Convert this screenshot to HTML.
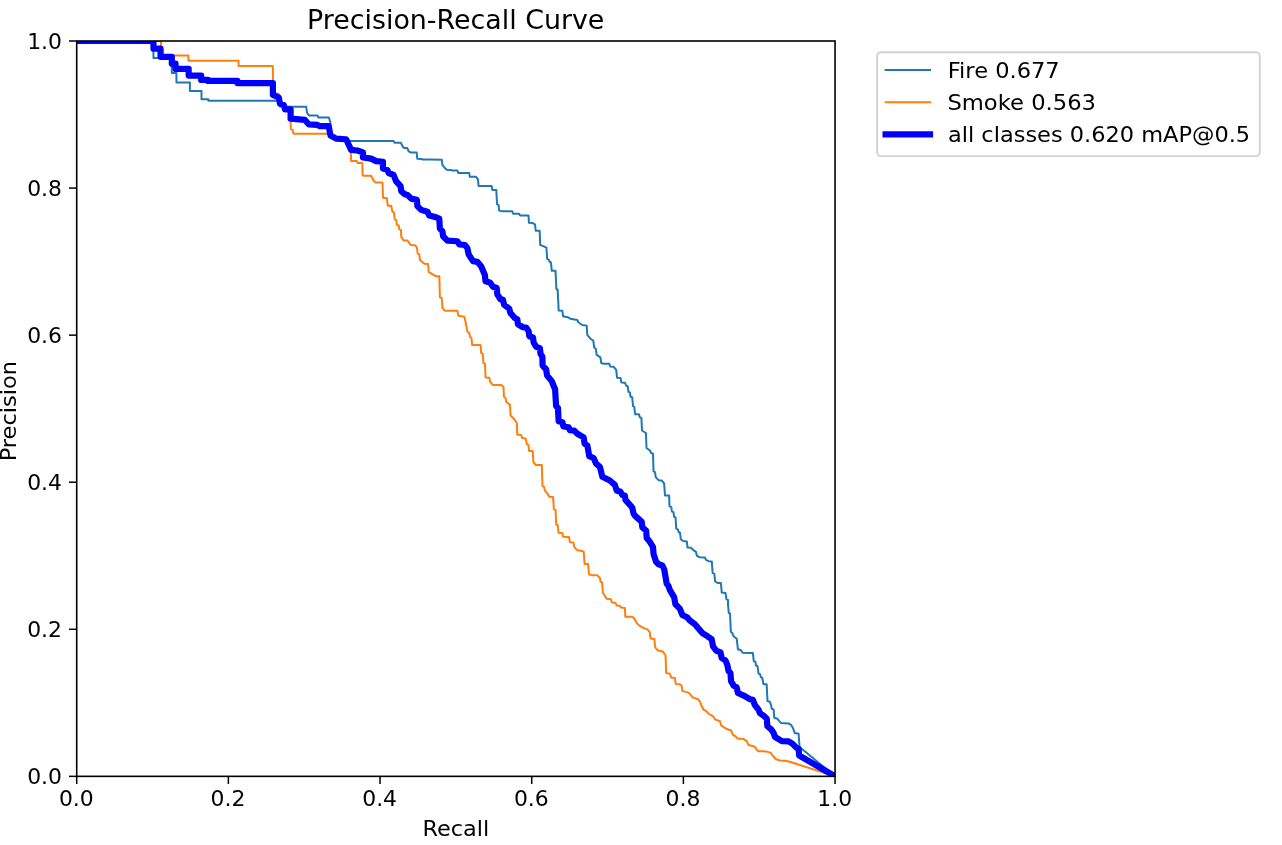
<!DOCTYPE html>
<html lang="en"><head><meta charset="utf-8"><title>Precision-Recall Curve</title>
<style>html,body{margin:0;padding:0;background:#fff;overflow:hidden}svg{display:block}text{font-family:"DejaVu Sans","Liberation Sans",sans-serif;fill:#000000}.t{font-size:26.80px}.b{font-size:21.90px}</style></head><body>
<svg width="1282" height="845" viewBox="0 0 1282 845">
<rect x="0" y="0" width="1282" height="845" fill="#ffffff"/>
<defs><clipPath id="ax"><rect x="76.7" y="41.0" width="758.35" height="735.35"/></clipPath></defs>
<g clip-path="url(#ax)" fill="none" stroke-linejoin="round" stroke-linecap="square">
<path d="M76.70,41.00 L153.46,41.00 L153.46,58.08 L171.81,58.08 L171.81,73.06 L176.43,73.06 L176.43,82.42 L189.91,82.42 L189.91,90.90 L201.51,90.90 L201.51,99.27 L208.38,99.27 L208.38,100.76 L275.40,100.76 L276.24,100.76 L279.73,100.97 L279.98,104.34 L283.98,104.96 L284.73,106.83 L292.46,106.83 L306.19,106.83 L307.07,112.70 L308.94,115.57 L317.43,115.57 L318.42,117.44 L328.91,117.44 L330.53,123.06 L330.78,134.91 L336.15,138.03 L346.13,138.66 L349.25,140.90 L351.12,140.90 L393.56,140.90 L394.56,142.78 L400.80,142.78 L402.92,146.77 L404.17,148.02 L407.29,148.02 L408.53,151.14 L410.41,152.39 L416.65,152.39 L417.27,158.63 L421.64,158.88 L422.26,159.50 L430.00,159.50 L441.76,159.70 L442.39,164.95 L444.88,168.07 L446.76,169.69 L451.12,169.94 L451.75,170.56 L457.36,170.56 L458.36,173.06 L469.22,173.06 L469.84,176.80 L476.08,176.80 L477.96,179.30 L478.58,185.91 L491.68,185.91 L492.31,189.91 L496.30,189.91 L497.05,204.26 L498.55,204.88 L499.17,210.50 L502.29,211.37 L512.28,211.37 L513.28,213.87 L519.14,213.87 L520.14,215.49 L528.50,215.49 L528.95,222.74 L532.70,223.11 L534.95,224.36 L535.82,230.85 L539.69,230.85 L540.19,244.95 L543.68,246.45 L546.43,247.70 L547.18,258.93 L548.92,259.93 L549.67,261.80 L550.92,262.43 L551.79,270.79 L555.54,270.79 L556.41,289.26 L557.66,289.51 L558.66,310.48 L562.40,310.85 L563.03,316.34 L568.64,317.59 L570.51,318.84 L577.32,320.00 L578.56,322.50 L582.31,324.99 L586.68,325.62 L587.30,334.98 L590.42,338.72 L593.29,340.59 L594.17,347.46 L595.79,348.71 L596.66,354.95 L600.41,357.44 L601.28,363.06 L603.71,363.74 L609.33,363.74 L610.20,366.49 L613.70,366.86 L616.19,369.98 L617.07,377.72 L620.56,378.10 L621.44,382.46 L624.93,382.71 L626.18,385.59 L627.68,386.21 L628.42,391.83 L629.92,392.45 L630.55,396.82 L632.17,397.19 L633.04,406.18 L634.29,406.80 L635.16,414.29 L638.91,414.29 L639.91,417.41 L641.40,418.03 L642.03,430.51 L645.90,433.01 L646.52,447.99 L649.89,450.48 L651.14,452.98 L653.01,453.60 L653.53,471.41 L655.02,472.16 L655.77,477.40 L658.52,480.15 L661.64,480.52 L664.13,483.39 L665.01,495.50 L669.13,495.50 L669.49,506.24 L671.23,506.86 L671.86,511.48 L673.48,512.11 L674.10,516.85 L675.60,517.47 L676.22,528.71 L678.10,529.70 L678.72,532.20 L679.97,532.70 L680.84,539.31 L683.09,540.94 L686.83,541.44 L687.46,547.43 L691.20,547.80 L693.07,549.92 L695.94,551.79 L696.82,555.54 L699.31,557.16 L704.93,557.41 L705.93,559.91 L708.67,561.15 L711.79,561.40 L712.67,573.01 L714.29,573.63 L715.16,581.37 L717.66,583.00 L720.90,583.00 L721.78,592.61 L725.52,592.98 L726.40,599.22 L728.02,599.84 L728.02,605.00 L728.82,613.11 L730.07,613.74 L730.82,631.83 L732.32,633.08 L733.56,636.20 L736.68,638.70 L737.93,649.31 L741.05,650.18 L742.55,652.68 L752.91,653.05 L753.78,661.16 L755.41,661.79 L756.03,665.53 L757.53,666.15 L758.53,673.64 L760.02,674.27 L761.02,677.39 L762.27,678.01 L763.52,684.25 L766.64,684.25 L767.51,701.10 L769.76,701.72 L771.01,704.84 L771.75,708.72 L773.62,709.34 L774.24,717.71 L777.36,718.71 L778.86,720.58 L781.11,723.07 L788.60,723.45 L791.09,724.95 L792.96,728.07 L794.84,733.06 L798.58,733.68 L799.58,747.41 L801.70,748.66 L835.05,776.35" stroke="#1f77b4" stroke-width="2.0"/>
<path d="M76.70,41.00 L160.95,41.00 L160.95,55.59 L188.41,55.59 L188.41,60.83 L238.58,60.83 L238.58,65.94 L272.90,65.94 L272.90,92.40 L278.49,93.98 L279.73,95.60 L279.98,106.46 L284.35,106.83 L284.98,109.95 L290.34,110.20 L290.59,122.43 L290.97,129.30 L292.71,129.92 L293.34,133.67 L327.41,133.67 L330.78,133.92 L331.15,136.16 L336.15,139.28 L346.13,139.91 L350.50,149.89 L350.87,153.63 L351.12,161.12 L356.74,161.12 L357.74,163.00 L362.36,163.00 L362.61,175.48 L364.85,175.85 L371.09,175.85 L373.59,180.47 L375.62,182.42 L382.48,182.42 L383.10,198.02 L386.85,198.02 L387.72,205.76 L391.22,205.76 L392.46,211.75 L393.96,212.37 L394.71,219.24 L396.21,219.86 L396.83,224.85 L398.71,225.48 L399.33,229.22 L400.95,229.84 L401.24,236.86 L403.74,240.60 L407.48,240.60 L410.60,244.97 L414.97,245.22 L416.84,247.46 L417.71,253.71 L419.34,254.33 L419.96,259.95 L424.33,263.69 L428.07,263.94 L428.70,271.80 L435.56,276.17 L439.31,276.17 L439.93,297.39 L441.80,298.01 L442.43,308.00 L444.92,310.87 L457.40,310.87 L458.40,315.86 L464.27,316.73 L465.51,321.72 L467.49,331.86 L469.36,333.10 L469.98,336.85 L471.48,338.10 L472.11,344.96 L480.59,344.96 L481.22,353.07 L482.71,353.70 L483.46,363.06 L484.96,363.68 L485.59,377.41 L489.33,377.66 L490.20,381.78 L492.70,384.90 L501.19,384.90 L503.43,386.77 L503.93,396.76 L505.55,398.00 L506.18,401.75 L509.92,404.87 L510.55,415.48 L514.29,419.22 L516.86,422.74 L517.24,434.72 L521.23,434.97 L522.23,438.09 L525.60,438.46 L526.85,444.33 L528.47,444.95 L529.10,450.94 L532.71,450.94 L533.34,461.80 L535.59,464.92 L541.83,464.92 L542.45,486.14 L543.95,486.76 L544.95,490.51 L547.44,493.63 L549.31,496.75 L553.06,497.12 L553.93,509.23 L555.55,509.85 L556.24,524.73 L557.74,524.98 L558.49,532.84 L562.23,533.09 L563.10,536.83 L568.97,537.08 L569.97,542.20 L573.46,542.45 L574.34,547.19 L576.83,549.94 L583.70,551.56 L584.57,563.92 L588.07,563.92 L588.94,574.27 L591.81,575.15 L597.18,575.15 L599.92,578.02 L600.55,581.76 L602.17,582.64 L602.79,592.37 L604.91,596.12 L606.79,598.86 L610.90,599.24 L611.78,602.36 L615.52,602.98 L616.77,605.48 L619.89,605.85 L621.14,607.60 L624.88,607.97 L625.36,616.86 L632.47,616.86 L634.34,618.73 L636.84,623.10 L639.34,625.59 L643.71,628.09 L647.45,629.34 L649.70,632.21 L650.57,638.45 L654.31,638.95 L655.19,647.43 L657.43,650.18 L663.05,651.80 L665.55,655.55 L666.17,673.02 L669.91,673.89 L671.16,677.39 L674.91,678.01 L675.78,683.88 L679.90,684.25 L681.77,686.12 L682.39,691.12 L688.63,692.61 L693.00,697.61 L698.00,699.23 L700.12,701.72 L701.74,706.72 L702.48,706.72 L703.10,709.34 L706.22,711.22 L709.34,714.34 L713.09,716.21 L714.96,719.33 L719.95,721.20 L721.20,725.57 L726.19,728.69 L731.19,730.56 L732.43,734.31 L736.18,736.80 L737.43,738.42 L743.67,739.05 L746.79,741.17 L748.41,744.91 L754.27,746.41 L758.02,751.15 L765.51,751.40 L770.50,752.65 L773.62,756.77 L776.12,759.27 L779.86,760.51 L784.85,760.76 L789.84,761.76 L835.05,776.35" stroke="#ff7f0e" stroke-width="2.0"/>
<path d="M76.70,41.00 L153.46,41.00 L153.46,48.72 L160.58,48.72 L160.58,56.83 L171.81,56.83 L171.81,63.70 L175.55,63.70 L175.55,68.94 L188.66,68.94 L188.66,75.55 L201.14,75.55 L201.14,79.92 L208.00,79.92 L208.00,80.92 L237.33,80.92 L237.33,83.04 L272.90,83.04 L272.90,94.90 L278.74,97.47 L279.98,103.71 L283.73,104.96 L284.98,109.33 L290.59,109.33 L290.59,118.69 L304.95,119.94 L308.69,124.31 L317.43,124.93 L319.92,126.18 L328.66,126.18 L330.53,135.54 L336.15,138.66 L346.13,139.28 L351.12,149.89 L357.36,150.51 L362.98,152.39 L362.98,157.38 L371.09,158.63 L376.08,161.12 L382.95,161.75 L382.95,168.61 L387.32,169.86 L388.56,172.98 L393.56,174.85 L396.05,181.09 L400.58,186.16 L401.20,191.15 L404.95,194.27 L407.44,194.90 L411.19,198.64 L416.80,199.89 L417.43,206.13 L421.17,209.88 L427.41,211.75 L429.28,215.49 L436.15,217.36 L439.27,218.61 L439.89,228.60 L442.39,231.09 L443.05,236.23 L447.42,240.60 L457.40,241.22 L459.27,244.34 L464.89,244.97 L467.39,248.09 L468.63,254.33 L473.00,261.19 L477.37,261.82 L481.12,266.19 L484.86,274.92 L485.48,281.16 L489.85,282.41 L492.97,286.78 L496.72,288.03 L497.34,294.27 L500.46,299.26 L502.96,299.88 L504.20,304.88 L509.20,308.62 L510.44,312.99 L514.81,317.98 L517.31,319.23 L517.93,324.22 L523.03,327.24 L526.15,327.49 L528.64,331.23 L529.27,336.22 L533.01,337.47 L533.63,342.46 L536.13,346.83 L539.88,348.08 L540.50,353.70 L542.37,356.82 L542.62,365.55 L546.12,369.30 L547.11,375.54 L551.73,381.15 L552.98,384.27 L555.10,389.27 L556.10,406.12 L557.97,407.99 L558.35,416.10 L558.67,421.24 L562.42,422.24 L563.42,426.48 L568.66,427.23 L569.91,430.23 L574.27,430.60 L577.39,433.72 L583.63,437.46 L584.63,443.71 L587.38,445.58 L589.25,456.19 L593.62,458.06 L596.12,463.67 L599.86,466.79 L602.36,476.78 L609.84,480.52 L614.84,484.89 L616.71,490.51 L620.45,491.76 L622.32,494.88 L624.82,495.50 L625.44,499.87 L630.44,505.48 L632.31,507.98 L633.56,513.60 L634.87,515.62 L641.73,521.86 L642.36,527.47 L646.10,530.59 L646.72,538.08 L649.84,541.83 L652.96,546.82 L653.59,554.31 L656.08,561.79 L658.58,564.29 L662.32,565.54 L664.20,569.28 L666.69,583.63 L668.56,586.13 L669.81,589.88 L674.18,597.36 L675.43,604.23 L679.80,608.60 L682.39,614.98 L687.39,617.48 L689.88,620.60 L694.88,624.34 L702.36,633.08 L707.36,636.20 L711.72,639.32 L712.97,646.19 L716.09,650.55 L720.46,652.43 L721.71,658.04 L725.45,660.54 L727.32,664.91 L728.57,671.15 L730.44,673.02 L731.07,681.13 L733.56,685.50 L736.68,687.37 L737.93,692.99 L744.80,696.11 L749.79,699.23 L752.91,699.85 L754.78,704.84 L758.64,709.97 L759.89,713.09 L764.88,716.83 L766.76,718.71 L767.38,726.19 L771.12,729.31 L773.62,733.06 L774.87,736.80 L779.86,739.92 L782.36,741.17 L788.60,741.42 L792.34,743.67 L796.08,747.41 L798.58,748.66 L799.20,755.52 L835.05,776.35" stroke="#0000ff" stroke-width="6.2"/>
</g>
<g stroke="#000" stroke-width="1.5" fill="none">
<line x1="76.70" y1="776.35" x2="76.70" y2="784.05"/>
<line x1="76.7" y1="776.35" x2="69.00" y2="776.35"/>
<line x1="228.37" y1="776.35" x2="228.37" y2="784.05"/>
<line x1="76.7" y1="629.28" x2="69.00" y2="629.28"/>
<line x1="380.04" y1="776.35" x2="380.04" y2="784.05"/>
<line x1="76.7" y1="482.21" x2="69.00" y2="482.21"/>
<line x1="531.71" y1="776.35" x2="531.71" y2="784.05"/>
<line x1="76.7" y1="335.14" x2="69.00" y2="335.14"/>
<line x1="683.38" y1="776.35" x2="683.38" y2="784.05"/>
<line x1="76.7" y1="188.07" x2="69.00" y2="188.07"/>
<line x1="835.05" y1="776.35" x2="835.05" y2="784.05"/>
<line x1="76.7" y1="41.00" x2="69.00" y2="41.00"/>
</g>
<rect x="76.7" y="41.0" width="758.35" height="735.35" fill="none" stroke="#000" stroke-width="1.6" stroke-linejoin="miter"/>
<rect x="877.1" y="52.2" width="382.70" height="103.90" rx="3.8" ry="3.8" fill="#ffffff" stroke="#d2d2d2" stroke-width="1.9"/>
<line x1="885.6" y1="69.9" x2="930.0" y2="69.9" stroke="#1f77b4" stroke-width="2.0" stroke-linecap="square"/>
<line x1="885.6" y1="102.3" x2="930.0" y2="102.3" stroke="#ff7f0e" stroke-width="2.0" stroke-linecap="square"/>
<line x1="885.6" y1="134.3" x2="930.0" y2="134.3" stroke="#0000ff" stroke-width="6.2" stroke-linecap="square"/>
<text class="t" transform="translate(307.12,29.30) scale(1.0019,1)">Precision-Recall Curve</text>
<text class="b" transform="translate(947.77,78.30) scale(1.0301,1)">Fire 0.677</text>
<text class="b" transform="translate(947.43,109.90) scale(1.0346,1)">Smoke 0.563</text>
<text class="b" transform="translate(947.97,142.35) scale(1.0259,1)">all classes 0.620 mAP@0.5</text>
<text class="b" transform="translate(422.41,835.90) scale(1.0251,1)">Recall</text>
<text class="b" transform="translate(15.70,461.32) rotate(-90) scale(1.0273,1)">Precision</text>
<text class="b" text-anchor="middle" transform="translate(76.30,806.4) scale(1.0,1)">0.0</text>
<text class="b" text-anchor="end" transform="translate(62.0,784.05) scale(1.0,1)">0.0</text>
<text class="b" text-anchor="middle" transform="translate(227.97,806.4) scale(1.0,1)">0.2</text>
<text class="b" text-anchor="end" transform="translate(62.0,636.98) scale(1.0,1)">0.2</text>
<text class="b" text-anchor="middle" transform="translate(379.64,806.4) scale(1.0,1)">0.4</text>
<text class="b" text-anchor="end" transform="translate(62.0,489.91) scale(1.0,1)">0.4</text>
<text class="b" text-anchor="middle" transform="translate(531.31,806.4) scale(1.0,1)">0.6</text>
<text class="b" text-anchor="end" transform="translate(62.0,342.84) scale(1.0,1)">0.6</text>
<text class="b" text-anchor="middle" transform="translate(682.98,806.4) scale(1.0,1)">0.8</text>
<text class="b" text-anchor="end" transform="translate(62.0,195.77) scale(1.0,1)">0.8</text>
<text class="b" text-anchor="middle" transform="translate(834.65,806.4) scale(1.0,1)">1.0</text>
<text class="b" text-anchor="end" transform="translate(62.0,48.70) scale(1.0,1)">1.0</text>
</svg></body></html>
